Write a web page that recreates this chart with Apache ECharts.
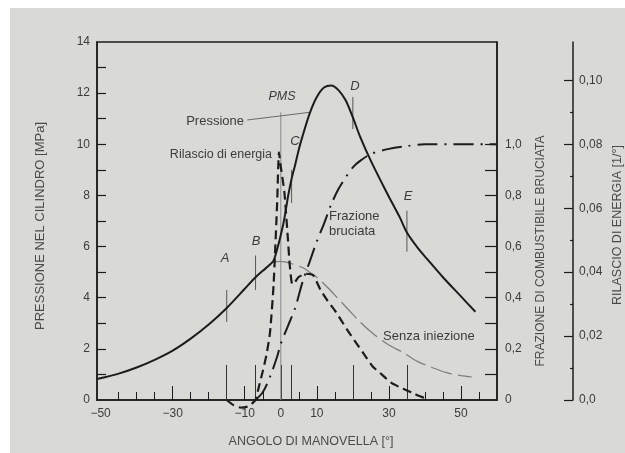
<!DOCTYPE html>
<html><head><meta charset="utf-8">
<script src="https://cdn.jsdelivr.net/npm/echarts@6/dist/echarts.min.js"></script>
<style>html,body{margin:0;padding:0;background:#fff}#c{width:625px;height:453px}</style>
</head><body><div id="c"></div>
<script>
// ---- tick labels / tick positions ----
const angleTickLabels = [-50, -30, -10, 0, 10, 30, 50];
const angleShortTicks = [-45, -40, -35, -25, -20, -5, 5, 15, 25, 40, 45, 55];
const angleMidTicks = [-30, -10, 10, 30, 50];
const angleEventTicks = [-15, -7, 0, 3, 20, 35];
const pressureTickLabels = [0, 2, 4, 6, 8, 10, 12, 14];
const pressureTicks = [1, 2, 3, 4, 5, 6, 7, 8, 9, 10, 11, 12, 13];
const fractionTickLabels = [0, 0.2, 0.4, 0.6, 0.8, 1.0];
const fractionTicks = [0.1, 0.2, 0.3, 0.4, 0.5, 0.6, 0.7, 0.8, 0.9, 1.0];
const energyTickLabels = [0, 0.02, 0.04, 0.06, 0.08, 0.10];
const energyMinorTicks = [0.01, 0.03, 0.05, 0.07, 0.09];

// ---- series data ----
const pressAngle = [-51,-50,-45,-40,-35,-30,-25,-20,-15,-10,-7,-5,-3,-2,-1,0,1,2,3,4,5,6,8,10,12,14,16,18,20,22,25,28,30,33,35,38,41,45,50,54];
const pressValue = [0.82,0.85,1.03,1.27,1.57,1.93,2.4,2.95,3.6,4.35,4.8,5.05,5.3,5.45,5.9,6.45,7.1,7.95,8.65,9.2,9.8,10.3,11.2,11.85,12.22,12.3,12.12,11.72,11.05,10.3,9.35,8.5,7.95,7.15,6.55,5.95,5.45,4.8,4.05,3.45];

const motorAngle = [-2.5,0,3,6,8,10,13,16,19,22,26,30,34,38,42,46,50,53];
const motorValue = [5.4,5.42,5.33,5.18,5.0,4.8,4.4,3.95,3.5,3.05,2.55,2.15,1.85,1.5,1.27,1.07,0.95,0.9];

const energyAngle = [-15,-13,-11,-9,-7.5,-7,-6,-5,-4,-3,-2,-1,-0.5,0,1,2,2.5,3.2,4,5,7,9,11,13,15,17,19,21,23,25.5,28,30.5,33,35,37,39,40.5];
const energyValue = [0,-0.0017,-0.0024,-0.002,-0.0006,0,0.0045,0.009,0.014,0.021,0.036,0.062,0.0775,0.073,0.065,0.05,0.042,0.0362,0.037,0.0385,0.0395,0.039,0.0345,0.031,0.028,0.0245,0.021,0.0177,0.0145,0.0105,0.008,0.0055,0.004,0.003,0.002,0.001,0.0004];

const fractionAngle = [-7,-5,-3,-1,0,2,4,6,8,10,12,14,16,18,20,22,25,30,35,40,60];
const fractionValue = [0,0.03,0.09,0.17,0.22,0.29,0.36,0.46,0.54,0.62,0.69,0.765,0.825,0.87,0.91,0.935,0.962,0.982,0.993,1.0,1.0];

// event markers on the pressure curve (A, B, C, D, E)
const markerAngle = [-15, -7, 3, 20, 35];
const markerLow = [3.05, 4.3, 7.7, 10.6, 5.8];
const markerHigh = [4.3, 5.65, 9.0, 11.85, 7.4];
// TDC (PMS) line and "Pressione" leader
const tdcAngle = 0;
const tdcRange = [0, 11.25];
const leaderAngle = [-9.3, 8];
const leaderValue = [10.95, 11.25];

const FONT = 'Liberation Sans, Arial, sans-serif';
const TXT = '#3c3c3c';
const INK = '#1c1c1c';

function pairs(xs, ys) { return xs.map((x, i) => [x, ys[i]]); }
const comma = (v, d) => v.toFixed(d).replace('.', ',');

const chart = echarts.init(document.getElementById('c'), null, {renderer: 'canvas'});

const xBase = {type: 'value', min: -51, max: 60, gridIndex: 0, position: 'bottom', splitLine: {show: false}};
const series = [];
markerAngle.forEach((a, i) => {
  series.push({type: 'line', xAxisIndex: 0, yAxisIndex: 0, data: [[a, markerLow[i]], [a, markerHigh[i]]],
    symbol: 'none', silent: true, z: 1, lineStyle: {color: '#555', width: 1}});
});
series.push({type: 'line', xAxisIndex: 0, yAxisIndex: 0, data: [[tdcAngle, tdcRange[0]], [tdcAngle, tdcRange[1]]],
  symbol: 'none', silent: true, z: 1, lineStyle: {color: '#8a8a8a', width: 1}});
series.push({type: 'line', xAxisIndex: 0, yAxisIndex: 0, data: pairs(leaderAngle, leaderValue),
  symbol: 'none', silent: true, z: 1, lineStyle: {color: '#6a6a6a', width: 1}});
series.push({name: 'Senza iniezione', type: 'line', xAxisIndex: 0, yAxisIndex: 0, data: pairs(motorAngle, motorValue),
  symbol: 'none', smooth: 0.3, z: 2, lineStyle: {color: '#7c7c7c', width: 1.2, type: [22, 6]}});
series.push({name: 'Pressione', type: 'line', xAxisIndex: 0, yAxisIndex: 0, data: pairs(pressAngle, pressValue),
  symbol: 'none', smooth: 0.3, z: 3, lineStyle: {color: INK, width: 2}});
series.push({name: 'Frazione bruciata', type: 'line', xAxisIndex: 0, yAxisIndex: 1, data: pairs(fractionAngle, fractionValue),
  symbol: 'none', smooth: 0.3, z: 3, lineStyle: {color: INK, width: 2, type: [20, 7, 2, 7]}});
series.push({name: 'Rilascio di energia', type: 'line', xAxisIndex: 0, yAxisIndex: 2, data: pairs(energyAngle, energyValue),
  symbol: 'none', smooth: 0.2, clip: false, z: 3, lineStyle: {color: INK, width: 2.2, type: [9, 5]}});

function t(text, x, y, opts) {
  return Object.assign({type: 'text', x: x, y: y, silent: true, z: 50,
    style: Object.assign({text: text, font: '13px ' + FONT, fill: TXT, align: 'left', verticalAlign: 'middle'}, opts || {})});
}
const graphics = [
  {type: 'rect', shape: {x: 10, y: 8, width: 615, height: 445}, style: {fill: '#d9d9d6'}, z: -10, silent: true},
  Object.assign(t('PRESSIONE NEL CILINDRO [MPa]', 40, 226, {align: 'center', font: '13px ' + FONT, fill: '#4a4a4a'}), {rotation: Math.PI / 2}),
  Object.assign(t('FRAZIONE DI COMBUSTIBILE BRUCIATA', 541, 251, {align: 'center', font: '12px ' + FONT, fill: '#4a4a4a'}), {rotation: Math.PI / 2}),
  Object.assign(t('RILASCIO DI ENERGIA [1/°]', 618, 225, {align: 'center', font: '12.5px ' + FONT, fill: '#4a4a4a'}), {rotation: Math.PI / 2}),
  t('ANGOLO DI MANOVELLA [°]', 311, 442, {align: 'center', font: '12.5px ' + FONT, fill: '#4a4a4a'}),
  t('PMS', 282, 97, {align: 'center', font: 'italic 12.5px ' + FONT}),
  t('Pressione', 244, 121, {align: 'right'}),
  t('Rilascio di energia', 272, 155, {align: 'right', font: '12.5px ' + FONT}),
  t('C', 295, 141, {align: 'center', font: 'italic 13px ' + FONT}),
  t('A', 225, 258, {align: 'center', font: 'italic 13px ' + FONT}),
  t('B', 256, 241, {align: 'center', font: 'italic 13px ' + FONT}),
  t('D', 355, 86, {align: 'center', font: 'italic 13px ' + FONT}),
  t('E', 408, 196, {align: 'center', font: 'italic 13px ' + FONT}),
  t('Frazione', 329, 216),
  t('bruciata', 329, 231),
  t('Senza iniezione', 383, 336)
];

const option = {
  backgroundColor: '#ffffff',
  animation: false,
  grid: {left: 97, right: 128, top: 42, bottom: 53, show: true, borderColor: INK, borderWidth: 1.5, backgroundColor: 'transparent'},
  xAxis: [
    Object.assign({}, xBase, {
      axisLine: {show: true, onZero: false, lineStyle: {color: INK, width: 1.5}},
      axisTick: {show: true, inside: true, length: 8, customValues: angleShortTicks, lineStyle: {color: INK, width: 1}},
      axisLabel: {show: true, customValues: angleTickLabels, margin: 8, color: TXT, fontSize: 12, fontFamily: FONT,
        formatter: v => v < 0 ? '\u2212' + Math.abs(v) : String(v)}
    }),
    Object.assign({}, xBase, {
      axisLine: {show: false, onZero: false}, axisLabel: {show: false},
      axisTick: {show: true, inside: true, length: 14, customValues: angleMidTicks, lineStyle: {color: INK, width: 1}}
    }),
    Object.assign({}, xBase, {
      axisLine: {show: false, onZero: false}, axisLabel: {show: false},
      axisTick: {show: true, inside: true, length: 35, customValues: angleEventTicks, lineStyle: {color: '#333', width: 1}}
    })
  ],
  yAxis: [
    {type: 'value', min: 0, max: 14, position: 'left', splitLine: {show: false},
      axisLine: {show: true, onZero: false, lineStyle: {color: INK, width: 1.5}},
      axisTick: {show: true, inside: true, length: 9, customValues: pressureTicks, lineStyle: {color: INK, width: 1.2}},
      axisLabel: {customValues: pressureTickLabels, margin: 7, color: TXT, fontSize: 12, fontFamily: FONT}},
    {type: 'value', min: 0, max: 1.4, position: 'right', offset: 0, splitLine: {show: false},
      axisLine: {show: true, onZero: false, lineStyle: {color: INK, width: 1.5}},
      axisTick: {show: true, inside: true, length: 12, customValues: fractionTicks, lineStyle: {color: INK, width: 1.2}},
      axisLabel: {customValues: fractionTickLabels, margin: 8, color: TXT, fontSize: 12, fontFamily: FONT,
        formatter: v => v === 0 ? '0' : comma(v, 1)}},
    {type: 'value', min: 0, max: 0.112, position: 'right', offset: 76, splitLine: {show: false},
      axisLine: {show: true, onZero: false, lineStyle: {color: INK, width: 1.5}},
      axisTick: {show: true, inside: true, length: 9, customValues: energyTickLabels, lineStyle: {color: INK, width: 1.2}},
      axisLabel: {customValues: energyTickLabels, margin: 6, color: TXT, fontSize: 12, fontFamily: FONT,
        formatter: v => v === 0 ? '0,0' : comma(v, 2)}},
    {type: 'value', min: 0, max: 0.112, position: 'right', offset: 76, splitLine: {show: false},
      axisLine: {show: false, onZero: false}, axisLabel: {show: false},
      axisTick: {show: true, inside: true, length: 3, customValues: energyMinorTicks, lineStyle: {color: INK, width: 1.2}}}
  ],
  series: series,
  graphic: graphics
};
chart.setOption(option);
</script></body></html>
